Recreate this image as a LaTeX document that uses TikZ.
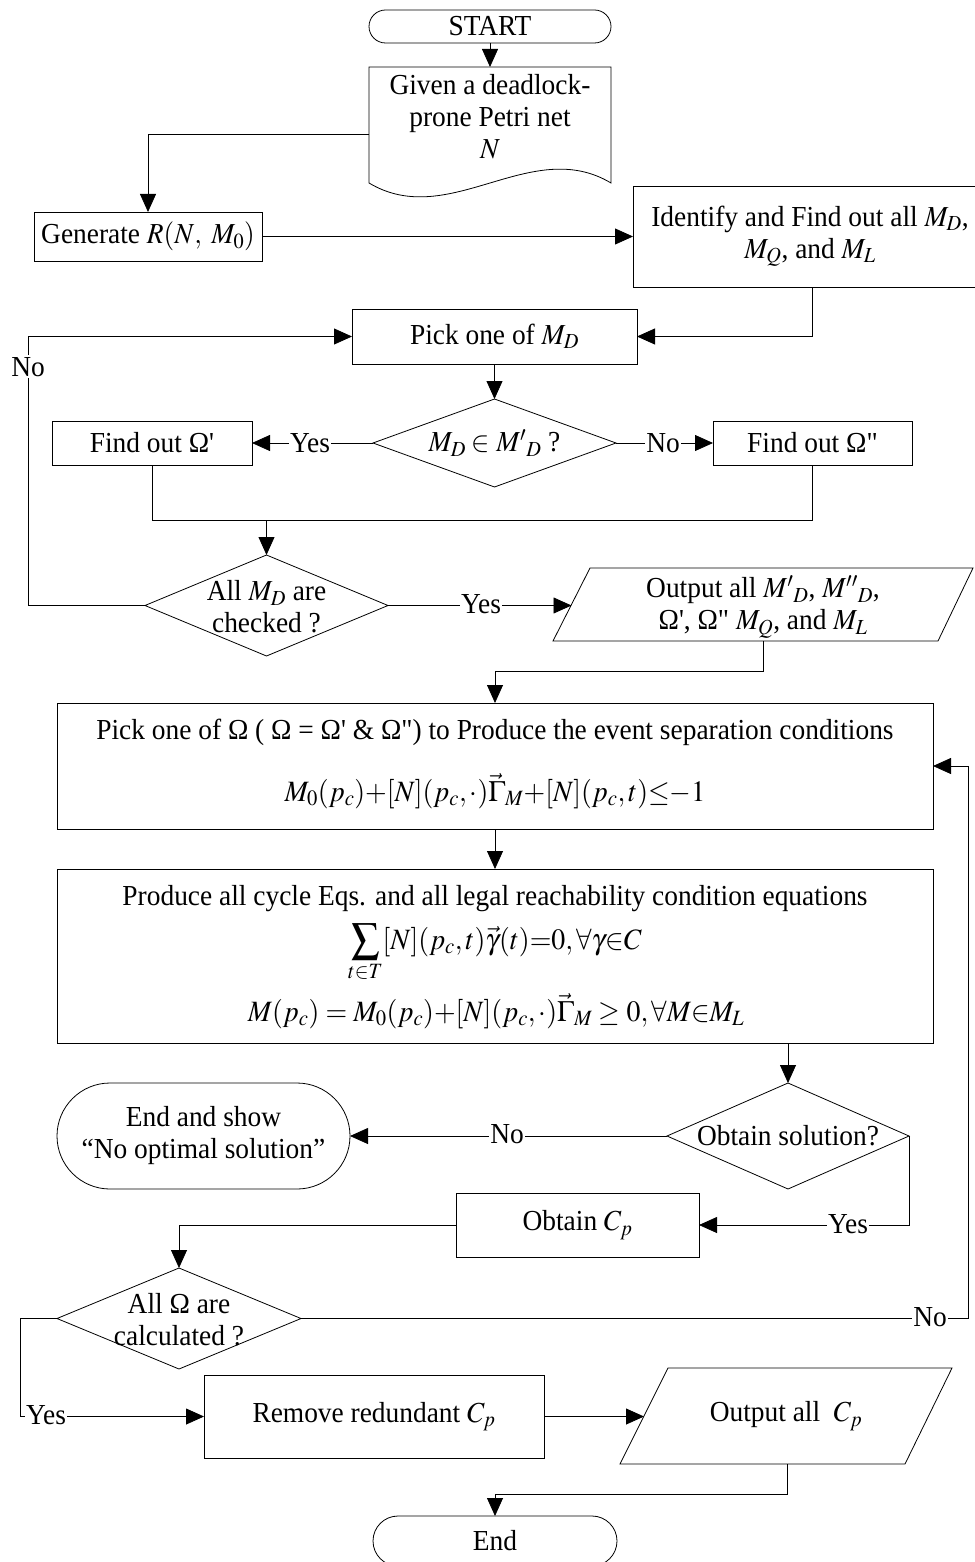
\documentclass[tikz,border=0pt]{standalone}
\usepackage{mathptmx}
\usepackage[no-math]{fontspec}
\setmainfont{Liberation Serif}[FakeStretch=0.945,Ligatures=TeXOff]
\usepackage{graphicx}
\usetikzlibrary{arrows.meta,shapes.geometric}
\newcommand{\mm}[1]{\scalebox{0.945}[1]{$#1$}}
\begin{document}
\begin{tikzpicture}[x=1pt,y=-1pt, line width=0.8pt,
  every node/.style={font=\fontsize{29}{32}\selectfont, inner sep=0pt, outer sep=0pt},
  arr/.style={-{Triangle[length=18pt,width=16pt]}},
  boxn/.style={draw, rectangle, align=center},
  termn/.style={draw, rectangle, align=center},
  dia/.style={draw, diamond},
  lbl/.style={fill=white, inner xsep=1pt, inner ysep=2pt, anchor=base},
  tnode/.style={align=center},
  fml/.style={anchor=base, font=\fontsize{29.5}{36}\selectfont}]
\useasboundingbox (0,0) rectangle (974,1562);

% START and document
\node[termn, minimum width=242pt, minimum height=33pt, rounded corners=16.5pt] (start) at (490,26.5) {START};
\coordinate (docN) at (490,67);
\coordinate (docW) at (369,134);
\draw (369,67) -- (611,67) -- (611,183) .. controls (530.7,135) and (449.3,231) .. (369,183) -- cycle;
\node[tnode] (given) at (490,117) {Given a deadlock-\\prone Petri net\\\mm{N}};
\draw[arr] (start.south) -- (docN);

\node[boxn, minimum width=228pt, minimum height=49pt] (gen) at (148,236.5) {Generate \mm{R(N,\ M_0)}};
\draw[arr] (docW) -| (gen.north);

\node[boxn, minimum width=354pt, minimum height=101pt] (ident) at (810,236.5) {Identify and Find out all \mm{M_D},\\\mm{M_Q}, and \mm{M_L}};
\draw[arr] (gen.east) -- (ident.west);

\node[boxn, minimum width=285pt, minimum height=55pt] (pick) at (494.5,336.5) {Pick one of \mm{M_D}};
\coordinate (c1) at (812,336.5);
\draw[arr] (ident.south -| c1) -- (c1) -- (pick.east);

% first decision
\node[dia, minimum width=243pt, minimum height=88pt] (d1) at (494.5,443) {};
\node[tnode] (d1t) at (494.5,443) {\mm{M_D\in {M'}_D}\ ?};
\draw[arr] (pick.south) -- (d1.north);
\node[boxn, minimum width=200pt, minimum height=44pt] (fo1) at (152,443) {Find out Ω'};
\node[boxn, minimum width=199pt, minimum height=44pt] (fo2) at (812.5,443) {Find out Ω"};
\draw[arr] (d1.west) -- (fo1.east);
\draw[arr] (d1.east) -- (fo2.west);
\node[lbl] (y1) at (310,452) {Yes};
\node[lbl] (n1) at (663,452) {No};

\coordinate (m1) at (152,520);
\coordinate (m2) at (812.5,520);
\coordinate (m3) at (266.5,520);
\draw (fo1.south) -- (m1) -- (m2) -- (fo2.south);

% second decision
\node[dia, minimum width=243pt, minimum height=101pt] (d2) at (266.5,605.5) {};
\node[tnode] (d2t) at (266.5,607) {All \mm{M_D} are\\checked ?};
\draw[arr] (m3) -- (d2.north);
\coordinate (l1) at (28,605.5);
\coordinate (l2) at (28,336.5);
\draw[arr] (d2.west) -- (l1) -- (l2) -- (pick.west);
\node[lbl] (n2) at (28,376) {No};

% output 1
\coordinate (p1) at (590,568);
\coordinate (p2) at (973,568);
\coordinate (p3) at (938,641);
\coordinate (p4) at (553,641);
\draw (p1) -- (p2) -- (p3) -- (p4) -- cycle;
\node[tnode] (o1) at (763,607) {Output all \mm{{M'}_D}, \mm{{M''}_D},\\Ω', Ω" \mm{M_Q}, and \mm{M_L}};
\coordinate (o1w) at (571.5,605.5);
\draw[arr] (d2.east) -- (o1w);
\node[lbl] (y2) at (481,613) {Yes};
\coordinate (o1s) at (763,641);
\coordinate (j1) at (763,671);
\coordinate (j2) at (495,671);

% big box 1
\node[boxn, minimum width=876pt, minimum height=126pt] (b1) at (495,766) {};
\draw[arr] (o1s) -- (j1) -- (j2) -- (b1.north);
\node[anchor=base] (b1t) at (495,739) {Pick one of Ω ( Ω = Ω' \& Ω") to Produce the event separation conditions};
\node[fml] (b1f) at (495,801) {\mm{M_0(p_c){+}[N](p_c,\cdot)\vec{\Gamma}_M{+}[N](p_c,t){\le}{-}1}};

% big box 2
\node[boxn, minimum width=876pt, minimum height=174pt] (b2) at (495,956) {};
\draw[arr] (b1.south) -- (b2.north);
\node[anchor=base] (b2t) at (495,905) {Produce all cycle Eqs. and all legal reachability condition equations};
\node[fml] (b2f1) at (495,949) {\mm{\displaystyle\sum_{t\in T}[N](p_c,t)\vec{\gamma}(t){=}0,\forall\gamma{\in}C}};
\node[fml] (b2f2) at (496,1021) {\mm{M(p_c)=M_0(p_c){+}[N](p_c,\cdot)\vec{\Gamma}_M\ge 0,\forall M{\in}M_L}};

% third decision
\node[dia, minimum width=242pt, minimum height=106pt] (d3) at (788,1136) {};
\node[tnode] (d3t) at (788,1136) {Obtain solution?};
\draw[arr] (b2.south -| d3.north) -- (d3.north);
\node[termn, minimum width=293pt, minimum height=106pt, rounded corners=53pt] (es) at (203.5,1136) {End and show\\“No optimal solution”};
\draw[arr] (d3.west) -- (es.east);
\node[lbl] (n3) at (507,1143) {No};

\node[boxn, minimum width=243pt, minimum height=64pt] (ob) at (577.5,1225) {Obtain \mm{C_p}};
\draw[arr] (d3.east) -- (d3.east |- ob.east) -- (ob.east);
\node[lbl] (y3) at (848,1233) {Yes};

% fourth decision
\node[dia, minimum width=244pt, minimum height=101pt] (d4) at (179,1318.5) {};
\node[tnode] (d4t) at (179,1320) {All Ω are\\calculated ?};
\draw[arr] (ob.west) -- (ob.west -| d4.north) -- (d4.north);
\coordinate (r1) at (968,1318.5);
\coordinate (r2) at (968,766);
\draw[arr] (d4.east) -- (r1) -- (r2) -- (b1.east);
\node[lbl] (n4) at (930,1326) {No};

\node[boxn, minimum width=340pt, minimum height=83pt] (rm) at (374,1416.5) {Remove redundant \mm{C_p}};
\coordinate (q1) at (20,1318.5);
\coordinate (q2) at (20,1416.5);
\draw[arr] (d4.west) -- (q1) -- (q2) -- (rm.west);
\node[lbl] (y4) at (46,1424) {Yes};

% output 2
\coordinate (s1) at (668,1368);
\coordinate (s2) at (952,1368);
\coordinate (s3) at (905,1464);
\coordinate (s4) at (620,1464);
\draw (s1) -- (s2) -- (s3) -- (s4) -- cycle;
\node[tnode] (o2t) at (786,1416) {Output all\ \ \mm{C_p}};
\coordinate (o2w) at (644,1416.5);
\draw[arr] (rm.east) -- (o2w);
\coordinate (o2s) at (787,1464);
\coordinate (k1) at (787,1494);
\coordinate (k2) at (495,1494);
\node[termn, minimum width=244pt, minimum height=50pt, rounded corners=25pt] (endn) at (495,1541) {End};
\draw[arr] (o2s) -- (k1) -- (k2) -- (endn.north);
\end{tikzpicture}
\end{document}
